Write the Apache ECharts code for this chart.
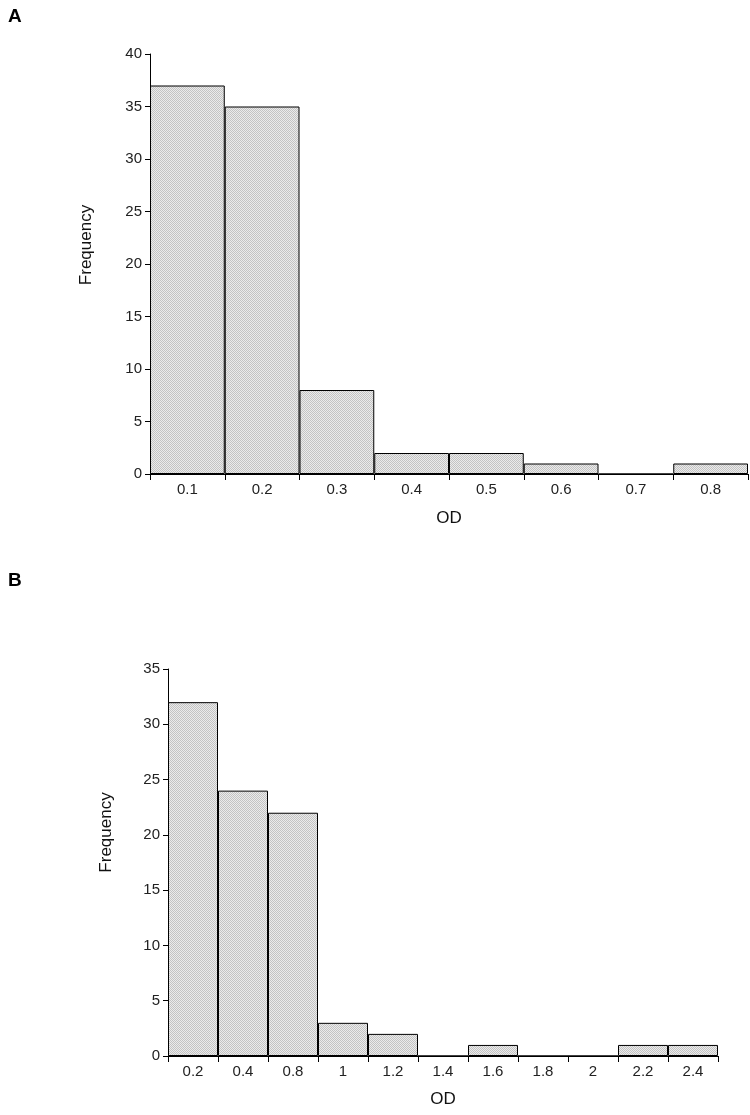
<!DOCTYPE html>
<html><head><meta charset="utf-8">
<script src="https://cdn.jsdelivr.net/npm/echarts@6/dist/echarts.min.js"></script>
<style>html,body{margin:0;padding:0;background:#fff}#c{width:750px;height:1115px}</style>
</head><body><div id="c"></div>
<script>
var catsA = ['0.1','0.2','0.3','0.4','0.5','0.6','0.7','0.8'];
var valsA = [37, 35, 8, 2, 2, 1, 0, 1];
var catsB = ['0.2','0.4','0.8','1','1.2','1.4','1.6','1.8','2','2.2','2.4'];
var valsB = [32, 24, 22, 3, 2, 0, 1, 0, 0, 1, 1];

var pc = document.createElement('canvas');
pc.width = 2; pc.height = 2;
var g = pc.getContext('2d');
g.fillStyle = '#ebebeb'; g.fillRect(0,0,2,2);
g.fillStyle = '#c3c3c3'; g.fillRect(0,0,1,1); g.fillRect(1,1,1,1);
var fillPat = {image: pc, repeat: 'repeat'};

var FONT = 'Liberation Sans';
function xAx(idx, cats, gap) {
  return {type:'category', gridIndex: idx, data: cats, name:'OD', nameLocation:'middle', nameGap: gap,
    nameTextStyle:{fontFamily:FONT, fontSize:17, color:'#111'},
    axisLine:{lineStyle:{color:'#000', width:1}},
    axisTick:{show:true, length:6, lineStyle:{color:'#000'}},
    axisLabel:{fontFamily:FONT, fontSize:15, color:'#222', margin:8}};
}
function yAx(idx, max, gap, shift) {
  return {type:'value', gridIndex: idx, min:0, max:max, interval:5, name:'Frequency', nameLocation:'middle', nameGap: gap,
    nameTextStyle:{fontFamily:FONT, fontSize:17, color:'#111', padding:[0,0,0,shift]},
    axisLine:{show:true, lineStyle:{color:'#000', width:1}},
    axisTick:{show:true, length:5, lineStyle:{color:'#000'}},
    splitLine:{show:false},
    axisLabel:{fontFamily:FONT, fontSize:15, color:'#222', margin:8}};
}
function bar(idx, vals) {
  return {type:'bar', xAxisIndex: idx, yAxisIndex: idx, data: vals, barCategoryGap:'0%',
    itemStyle:{color: fillPat, borderColor:'#000', borderWidth:1}, silent:true};
}
var chart = echarts.init(document.getElementById('c'), null, {renderer:'canvas'});
chart.setOption({
  animation:false,
  title:[
    {text:'A', left:3, top:2, textStyle:{fontFamily:FONT, fontSize:19, fontWeight:'bold', color:'#000'}},
    {text:'B', left:3, top:566, textStyle:{fontFamily:FONT, fontSize:19, fontWeight:'bold', color:'#000'}}
  ],
  grid:[
    {left:150, top:54, width:598, height:420},
    {left:168, top:669, width:550, height:387}
  ],
  xAxis:[xAx(0, catsA, 36), xAx(1, catsB, 35)],
  yAxis:[yAx(0, 40, 55, 38), yAx(1, 35, 53, 60)],
  series:[bar(0, valsA), bar(1, valsB)]
});
</script></body></html>
